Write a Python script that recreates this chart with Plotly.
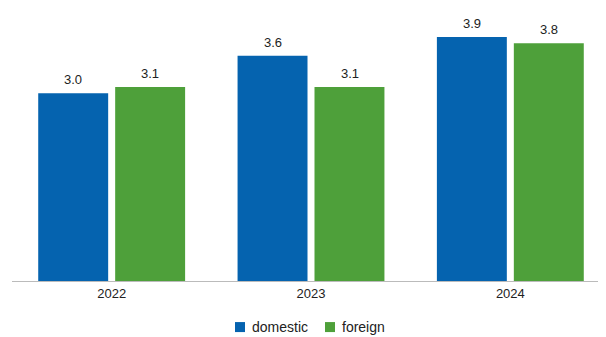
import plotly.graph_objects as go

years = ["2022", "2023", "2024"]
domestic = [3.0, 3.6, 3.9]
foreign = [3.1, 3.1, 3.8]

BLUE = "#0563AF"
GREEN = "#4EA03A"
FONT = "Liberation Sans, Arial, sans-serif"
TEXT = "#222222"

series = [("domestic", domestic, BLUE), ("foreign", foreign, GREEN)]

fig = go.Figure()
for name, vals, color in series:
    fig.add_trace(
        go.Bar(
            x=years,
            y=vals,
            name=name,
            marker=dict(color=color, line=dict(width=0)),
            showlegend=False,
        )
    )

# value labels above each bar (a bit more padding than plotly's outside text)
# category axis: annotations take the category index, "2022" would be read as a number
half = 38.5
for i, (name, vals, color) in enumerate(series):
    for k, v in enumerate(vals):
        fig.add_annotation(
            x=k, y=v, xref="x", yref="y",
            text=f"{v:.1f}", showarrow=False,
            xshift=(i - 0.5) * 2 * half, yshift=4, yanchor="bottom",
            font=dict(size=13, color=TEXT, family=FONT),
        )

# legend drawn by hand so the swatch sits close to its label
legend_y = -0.17
for (name, vals, color), sq_x, txt_x in zip(series, [-76, 14], [-61, 29]):
    fig.add_shape(
        type="rect", xref="paper", yref="paper",
        xsizemode="pixel", ysizemode="pixel",
        xanchor=0.5, yanchor=legend_y,
        x0=sq_x, x1=sq_x + 10, y0=-5, y1=5,
        fillcolor=color, line=dict(width=0),
    )
    fig.add_annotation(
        x=0.5, y=legend_y, xref="paper", yref="paper",
        text=name, showarrow=False, xanchor="left", yanchor="middle",
        xshift=txt_x, font=dict(size=14, color=TEXT, family=FONT),
    )

fig.update_layout(
    width=606,
    height=337,
    margin=dict(l=4, r=4, t=2, b=64, autoexpand=False),
    paper_bgcolor="white",
    plot_bgcolor="white",
    barmode="group",
    bargap=0.228,
    bargroupgap=0.091,
    font=dict(family=FONT, size=13, color=TEXT),
    showlegend=False,
    xaxis=dict(
        type="category",
        range=[-0.5, 2.5],
        showline=True,
        linecolor="#bbbbbb",
        linewidth=1,
        ticks="",
        showgrid=False,
        tickfont=dict(size=13),
    ),
    yaxis=dict(
        range=[0, 4.33],
        visible=False,
        showgrid=False,
        zeroline=False,
    ),
)

fig.write_html("out.html")
